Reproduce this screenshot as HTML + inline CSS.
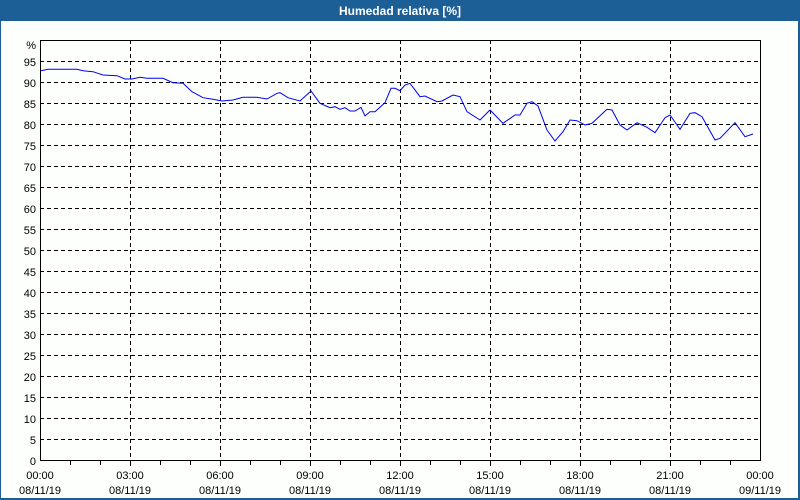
<!DOCTYPE html>
<html><head><meta charset="utf-8"><style>
html,body{margin:0;padding:0;background:#fff}
svg{display:block;font-family:"Liberation Sans",sans-serif}
</style></head><body>
<svg width="800" height="500" xmlns="http://www.w3.org/2000/svg">
<rect x="0" y="0" width="800" height="500" fill="#1c5e96"/>
<rect x="1" y="21" width="797" height="477" fill="#fdfffd"/>
<text x="400" y="15" fill="#fff" font-size="12" font-weight="bold" text-anchor="middle">Humedad relativa [%]</text>
<g stroke="#000" stroke-dasharray="4,3" stroke-width="1">
<line x1="40" x2="760" y1="61.5" y2="61.5"/><line x1="40" x2="760" y1="82.5" y2="82.5"/><line x1="40" x2="760" y1="103.5" y2="103.5"/><line x1="40" x2="760" y1="124.5" y2="124.5"/><line x1="40" x2="760" y1="145.5" y2="145.5"/><line x1="40" x2="760" y1="166.5" y2="166.5"/><line x1="40" x2="760" y1="187.5" y2="187.5"/><line x1="40" x2="760" y1="208.5" y2="208.5"/><line x1="40" x2="760" y1="229.5" y2="229.5"/><line x1="40" x2="760" y1="250.5" y2="250.5"/><line x1="40" x2="760" y1="271.5" y2="271.5"/><line x1="40" x2="760" y1="292.5" y2="292.5"/><line x1="40" x2="760" y1="313.5" y2="313.5"/><line x1="40" x2="760" y1="334.5" y2="334.5"/><line x1="40" x2="760" y1="355.5" y2="355.5"/><line x1="40" x2="760" y1="376.5" y2="376.5"/><line x1="40" x2="760" y1="397.5" y2="397.5"/><line x1="40" x2="760" y1="418.5" y2="418.5"/><line x1="40" x2="760" y1="439.5" y2="439.5"/>
<line x1="130.5" x2="130.5" y1="40" y2="461"/><line x1="220.5" x2="220.5" y1="40" y2="461"/><line x1="310.5" x2="310.5" y1="40" y2="461"/><line x1="400.5" x2="400.5" y1="40" y2="461"/><line x1="490.5" x2="490.5" y1="40" y2="461"/><line x1="580.5" x2="580.5" y1="40" y2="461"/><line x1="670.5" x2="670.5" y1="40" y2="461"/>
</g>
<rect x="40.5" y="40.5" width="720" height="420" fill="none" stroke="#000"/>
<g stroke="#000">
<line x1="70.5" x2="70.5" y1="461" y2="465"/><line x1="100.5" x2="100.5" y1="461" y2="465"/><line x1="130.5" x2="130.5" y1="461" y2="466"/><line x1="160.5" x2="160.5" y1="461" y2="465"/><line x1="190.5" x2="190.5" y1="461" y2="465"/><line x1="220.5" x2="220.5" y1="461" y2="466"/><line x1="250.5" x2="250.5" y1="461" y2="465"/><line x1="280.5" x2="280.5" y1="461" y2="465"/><line x1="310.5" x2="310.5" y1="461" y2="466"/><line x1="340.5" x2="340.5" y1="461" y2="465"/><line x1="370.5" x2="370.5" y1="461" y2="465"/><line x1="400.5" x2="400.5" y1="461" y2="466"/><line x1="430.5" x2="430.5" y1="461" y2="465"/><line x1="460.5" x2="460.5" y1="461" y2="465"/><line x1="490.5" x2="490.5" y1="461" y2="466"/><line x1="520.5" x2="520.5" y1="461" y2="465"/><line x1="550.5" x2="550.5" y1="461" y2="465"/><line x1="580.5" x2="580.5" y1="461" y2="466"/><line x1="610.5" x2="610.5" y1="461" y2="465"/><line x1="640.5" x2="640.5" y1="461" y2="465"/><line x1="670.5" x2="670.5" y1="461" y2="466"/><line x1="700.5" x2="700.5" y1="461" y2="465"/><line x1="730.5" x2="730.5" y1="461" y2="465"/>
</g>
<g font-size="11" fill="#000" text-anchor="end">
<text x="36" y="49">%</text><text x="36" y="66">95</text><text x="36" y="87">90</text><text x="36" y="108">85</text><text x="36" y="129">80</text><text x="36" y="150">75</text><text x="36" y="171">70</text><text x="36" y="192">65</text><text x="36" y="213">60</text><text x="36" y="234">55</text><text x="36" y="255">50</text><text x="36" y="276">45</text><text x="36" y="297">40</text><text x="36" y="318">35</text><text x="36" y="339">30</text><text x="36" y="360">25</text><text x="36" y="381">20</text><text x="36" y="402">15</text><text x="36" y="423">10</text><text x="36" y="444">5</text><text x="36" y="465">0</text>
</g>
<g font-size="11" fill="#000" text-anchor="middle">
<text x="40" y="479">00:00</text><text x="40" y="494">08/11/19</text>
<text x="130" y="479">03:00</text><text x="130" y="494">08/11/19</text>
<text x="220" y="479">06:00</text><text x="220" y="494">08/11/19</text>
<text x="310" y="479">09:00</text><text x="310" y="494">08/11/19</text>
<text x="400" y="479">12:00</text><text x="400" y="494">08/11/19</text>
<text x="490" y="479">15:00</text><text x="490" y="494">08/11/19</text>
<text x="580" y="479">18:00</text><text x="580" y="494">08/11/19</text>
<text x="670" y="479">21:00</text><text x="670" y="494">08/11/19</text>
<text x="760" y="479">00:00</text><text x="760" y="494">09/11/19</text>
</g>
<polyline fill="none" stroke="#0000ee" stroke-width="1" points="41,70.7 48,69.3 77,69.3 83,70.7 93,71.7 103,75 117,75.7 125,79 132,79 140,77.3 147,78.3 163,78.3 173,82.7 183,83.3 192,91.7 203,97.7 213,99.3 222,101 233,100 243,97.3 257,97.3 267,99 277,93.3 280,92.7 288,97.7 300,101 311,91 320,103.3 330,107.7 335,106.7 340,109.3 345,107.7 350,111 355,111 361,107.3 365,116 370,111.7 375,111.7 385,102.7 391,88.3 395,88.3 400,90.7 405,85 410,83.3 420,96.7 425,96 437,101.7 442,101 453,95 460,96.7 467,111.7 480,120 490,110 503,123.3 515,115 520,115 527,103.3 532,101.7 538,106 547,130 555,141 563,131.7 570,120 577,120.7 585,125 592,123.3 607,109.3 612,110 620,125 627,130 637,122.7 647,127.3 655,132.7 665,117.7 670,115 680,129.3 690,113.3 695,112.7 702,116.7 715,140 720,138.3 735,122.7 745,136.7 753,134"/>
</svg>
</body></html>
